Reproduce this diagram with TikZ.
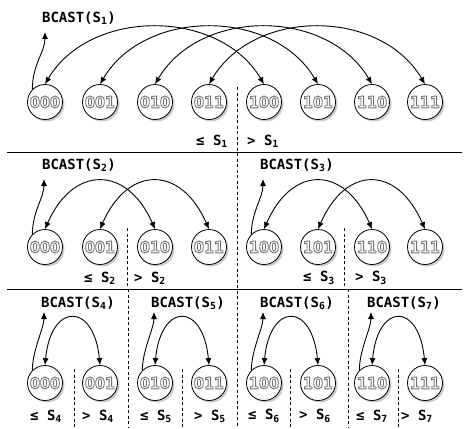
\documentclass[tikz,border=0pt]{standalone}
\usepackage{fontspec}
\usepackage{tikz}
\usetikzlibrary{arrows.meta,shadows}
\newfontfamily\monofont{DejaVu Sans Mono}
\newfontfamily\digitfont{DejaVu Sans}[FakeStretch=0.9]
\newcommand\hollow[1]{\special{pdf:literal direct 0.45 G 1 Tr 0.85 w}#1\special{pdf:literal direct 0 Tr}}

\begin{document}
\begin{tikzpicture}[x=1pt, y=1pt, line width=0.8pt, >={Latex[length=7pt,width=6pt]},
    proc/.style={circle, draw, fill=white, minimum size=35pt, inner sep=0pt,
      drop shadow={shadow xshift=2pt, shadow yshift=-2pt, fill=gray!70, opacity=0.6},
      text=gray!80, font=\digitfont\bfseries\fontsize{16}{16}\selectfont},
    bcast/.style={font=\monofont\bfseries\fontsize{14}{14}\selectfont},
    side/.style={font=\monofont\bfseries\fontsize{14}{14}\selectfont},
    xarc/.style={<->, line width=0.9pt},
    bcastarrow/.style={->, line width=0.9pt},
    divider/.style={dash pattern=on 3pt off 2.5pt, line width=0.8pt}]
    \useasboundingbox (0,0) rectangle (468,-428);

    % Processes, same columns in every row.
    \foreach \r/\y in {1/-102,2/-247,3/-383}
      \foreach \lab/\x in {000/45,001/100,010/155,011/209,100/264,101/318,110/372,111/425}
        \node[proc] (p\r-\lab) at (\x,\y) {\hollow{\lab}};

    % Row 1: exchange across S1.
    \foreach \p/\q in {000/100,001/101,010/110,011/111}
      \draw[xarc] (p1-\p.north) .. controls +(45,76) and +(-45,76) .. (p1-\q.north);
    \node[bcast] (bc1) at (79,-18) {BCAST(S\textsubscript{1})};
    \coordinate (t1) at (45,-32);
    \draw[bcastarrow] (p1-000.135) .. controls +(0,25) and +(0,-20) .. (t1);
    \node[side] (le1) at (212,-141) {≤ S\textsubscript{1}};
    \node[side] (gt1) at (263,-141) {> S\textsubscript{1}};

    % Row 2: exchange across S2 and S3.
    \foreach \p/\q in {000/010,001/011,100/110,101/111}
      \draw[xarc] (p2-\p.north) .. controls +(28,64) and +(-28,64) .. (p2-\q.north);
    \node[bcast] (bc2) at (79,-165) {BCAST(S\textsubscript{2})};
    \node[bcast] (bc3) at (297,-165) {BCAST(S\textsubscript{3})};
    \coordinate (t2) at (44,-179);
    \coordinate (t3) at (263,-179);
    \draw[bcastarrow] (p2-000.135) .. controls +(0,22) and +(0,-18) .. (t2);
    \draw[bcastarrow] (p2-100.135) .. controls +(0,22) and +(0,-18) .. (t3);
    \node[side] (le2) at (100,-278) {≤ S\textsubscript{2}};
    \node[side] (gt2) at (150,-278) {> S\textsubscript{2}};
    \node[side] (le3) at (319,-278) {≤ S\textsubscript{3}};
    \node[side] (gt3) at (371,-278) {> S\textsubscript{3}};

    % Row 3: exchange across S4 to S7.
    \foreach \p/\q in {000/001,010/011,100/101,110/111}
      \draw[xarc] (p3-\p.north) .. controls +(6,63) and +(-6,63) .. (p3-\q.north);
    \foreach \s/\x/\lab/\tx in {4/78/000/44,5/188/010/154,6/297/100/263,7/404/110/371}{
      \node[bcast] (bc\s) at (\x,-303) {BCAST(S\textsubscript{\s})};
      \coordinate (t\s) at (\tx,-312);
      \draw[bcastarrow] (p3-\lab.135) .. controls +(0,20) and +(0,-16) .. (t\s);
    }
    \node[side] (le4) at (46,-416) {≤ S\textsubscript{4}};
    \node[side] (gt4) at (98,-416) {> S\textsubscript{4}};
    \node[side] (le5) at (156,-416) {≤ S\textsubscript{5}};
    \node[side] (gt5) at (210,-416) {> S\textsubscript{5}};
    \node[side] (le6) at (264,-416) {≤ S\textsubscript{6}};
    \node[side] (gt6) at (315,-416) {> S\textsubscript{6}};
    \node[side] (le7) at (372,-416) {≤ S\textsubscript{7}};
    \node[side] (gt7) at (417,-416) {> S\textsubscript{7}};

    % Separators.
    \draw (7,-152.5) -- (462,-152.5);
    \draw (7,-289) -- (462,-289);
    \draw[divider] (237,-87) -- (237,-428);
    \draw[divider] (127,-228) -- (127,-289);
    \draw[divider] (344,-228) -- (344,-289);
    \draw[divider] (128,-289) -- (128,-428);
    \draw[divider] (348,-289) -- (348,-428);
    \foreach \x in {74,182,290,398}
      \draw[divider] (\x,-369) -- (\x,-428);
  \end{tikzpicture}
\end{document}
